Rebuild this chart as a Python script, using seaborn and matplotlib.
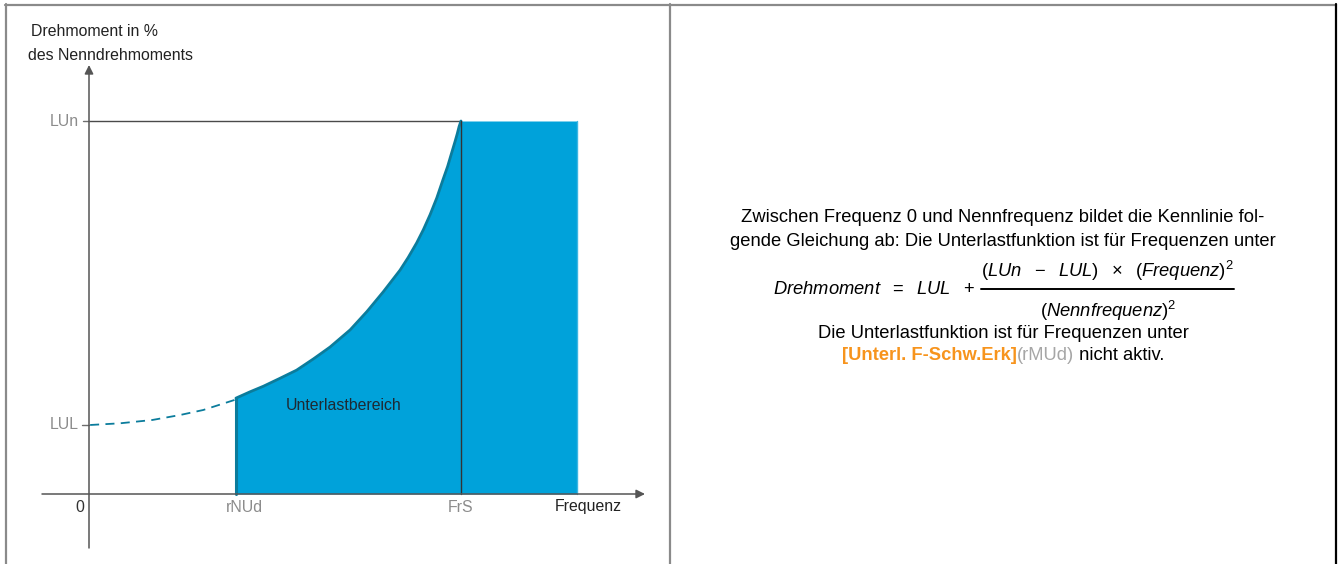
import matplotlib
matplotlib.use("Agg")
import matplotlib.pyplot as plt
import seaborn as sns
import pandas as pd

sns.set_theme(style="white")
plt.rcParams["font.family"] = ["Liberation Sans", "DejaVu Sans"]
plt.rcParams["mathtext.fontset"] = "custom"
plt.rcParams["mathtext.it"] = "Liberation Sans:italic"
plt.rcParams["mathtext.rm"] = "Liberation Sans"

# values (frequency relative to FrS, torque in % of LUn)
lul = 18.5
lun = 100.0
rnud = 0.395
frs = 1.0
fill_end = 1.312

dashed_f = [0.003, 0.083, 0.170, 0.245, 0.307, 0.397]
dashed_t = [18.5, 18.95, 19.84, 21.18, 22.52, 25.4]

curve_f = [0.395, 0.433, 0.469, 0.513, 0.558, 0.603, 0.648, 0.702, 0.747, 0.791,
           0.836, 0.858, 0.881, 0.899, 0.917, 0.935, 0.952, 0.964, 0.975, 0.984,
           0.990, 0.995, 1.0]
curve_t = [25.7, 27.4, 28.9, 31.0, 33.2, 36.2, 39.4, 44.0, 48.9, 54.2,
           60.0, 63.4, 67.35, 70.9, 74.9, 79.4, 84.4, 87.8, 91.5, 94.5,
           96.6, 98.55, 100.0]

tick_labels = ["LUn", "LUL"]
x_labels = ["0", "rNUd", "FrS"]

W, H = 1338, 564
fig = plt.figure(figsize=(W / 100, H / 100), dpi=100)

# background axes in pixel units for frame and free text
bg = fig.add_axes([0, 0, 1, 1])
bg.set_xlim(0, W)
bg.set_ylim(H, 0)
bg.axis("off")
frame_gray = "#8a8a8a"
bg.plot([5, 1336], [4.5, 4.5], color=frame_gray, lw=1.6)
bg.plot([5.5, 5.5], [4, H], color=frame_gray, lw=1.6)
bg.plot([670, 670], [4, H], color=frame_gray, lw=1.6)
bg.plot([1336, 1336], [4, H], color="black", lw=1.6)

# chart axes: pixel x 42..645, y 548..65
ox, oy = 89, 494
px_f = 372.0
px_t = 3.73
ax = fig.add_axes([42 / W, 1 - 548 / H, (645 - 42) / W, (548 - 65) / H])
ax.set_xlim((42 - ox) / px_f, (645 - ox) / px_f)
ax.set_ylim((oy - 548) / px_t, (oy - 65) / px_t)
ax.axis("off")

fill_color = "#00a2da"
edge_color = "#0b7c9c"
axis_color = "#6e6e6e"

df_curve = pd.DataFrame({"f": curve_f, "t": curve_t})
df_dash = pd.DataFrame({"f": dashed_f, "t": dashed_t})

ax.fill_between(curve_f + [fill_end], 0, curve_t + [lun], color=fill_color, lw=0, zorder=1)
ax.plot([fill_end, fill_end], [0, lun], color="#3cb6e3", lw=1.0, zorder=2)
sns.lineplot(data=df_curve, x="f", y="t", ax=ax, sort=False, color=edge_color, lw=2.0,
             zorder=3, solid_joinstyle="round")
sns.lineplot(data=df_dash, x="f", y="t", ax=ax, sort=False, color=edge_color, lw=1.3,
             linestyle=(0, (5, 3.5)), zorder=3)
ax.plot([rnud, rnud], [0, curve_t[0]], color=edge_color, lw=2.2, zorder=3)

ax.plot([0, frs], [lun, lun], color="#4a4a4a", lw=1.0, zorder=2)
ax.plot([frs, frs], [0, lun], color="#333333", lw=1.0, zorder=4)

# axes with arrows
xl = ax.get_xlim()
yl = ax.get_ylim()
ax.annotate("", xy=(xl[1], 0), xytext=(xl[0], 0),
            arrowprops=dict(arrowstyle="-|>", color="#555555", lw=1.1, mutation_scale=13,
                            shrinkA=0, shrinkB=0), zorder=5)
ax.annotate("", xy=(0, yl[1]), xytext=(0, yl[0]),
            arrowprops=dict(arrowstyle="-|>", color="#555555", lw=1.1, mutation_scale=13,
                            shrinkA=0, shrinkB=0), zorder=5)
ax.plot([-6 / px_f, 0], [lun, lun], color=axis_color, lw=1.0)
ax.plot([-7 / px_f, 0], [lul, lul], color=axis_color, lw=1.0)

tick_gray = "#8c8c8c"
fs = 11.4
for lab, val in zip(tick_labels, [lun, lul]):
    ax.text(-10 / px_f, val, lab, ha="right", va="center", fontsize=fs, color=tick_gray)
ax.text(-9 / px_f, -13 / px_t, x_labels[0], ha="center", va="center", fontsize=fs, color="#333333")
ax.text(rnud + 8 / px_f, -14 / px_t, x_labels[1], ha="center", va="center", fontsize=fs, color=tick_gray)
ax.text(frs, -13 / px_t, x_labels[2], ha="center", va="center", fontsize=fs, color=tick_gray)
ax.text((588 - ox) / px_f, -13 / px_t, "Frequenz", ha="center", va="center", fontsize=fs, color="#222222")
ax.text((344 - ox) / px_f, (oy - 405) / px_t, "Unterlastbereich", ha="center", va="center",
        fontsize=fs, color="#1e2a33")

bg.text(31, 32, "Drehmoment in %", ha="left", va="center", fontsize=fs, color="#222222")
bg.text(28, 55, "des Nenndrehmoments", ha="left", va="center", fontsize=fs, color="#222222")

# right-hand explanation
cx = 1003
rfs = 13.2
bg.text(cx, 217, "Zwischen Frequenz 0 und Nennfrequenz bildet die Kennlinie fol-",
        ha="center", va="center", fontsize=rfs, color="black")
bg.text(cx, 241, "gende Gleichung ab: Die Unterlastfunktion ist für Frequenzen unter",
        ha="center", va="center", fontsize=rfs, color="black")
bg.text(975, 290, r"$Drehmoment\ \ =\ \ LUL\ \ +$", ha="right", va="center", fontsize=rfs, color="black")
bg.plot([981, 1234], [289, 289], color="black", lw=1.4)
bg.text(1107, 271, r"$(LUn\ \ -\ \ LUL)\ \ \times\ \ (Frequenz)^2$",
        ha="center", va="center", fontsize=rfs, color="black")
bg.text(1108, 311, r"$(Nennfrequenz)^2$", ha="center", va="center", fontsize=rfs, color="black")
bg.text(cx, 334, "Die Unterlastfunktion ist für Frequenzen unter",
        ha="center", va="center", fontsize=rfs, color="black")

fig.canvas.draw()
renderer = fig.canvas.get_renderer()
parts = [("[Unterl. F-Schw.Erk]", "#f7941d", "bold"),
         ("(rMUd)", "#a6a6a6", "normal"),
         (" nicht aktiv.", "black", "normal")]
texts = []
for s, c, w in parts:
    t = bg.text(0, 356, s, ha="left", va="center", fontsize=rfs, color=c, fontweight=w)
    texts.append(t)
widths = [t.get_window_extent(renderer).width for t in texts]
x = cx - sum(widths) / 2
for t, wd in zip(texts, widths):
    t.set_x(x)
    x += wd

fig.savefig("out.png", dpi=100)
